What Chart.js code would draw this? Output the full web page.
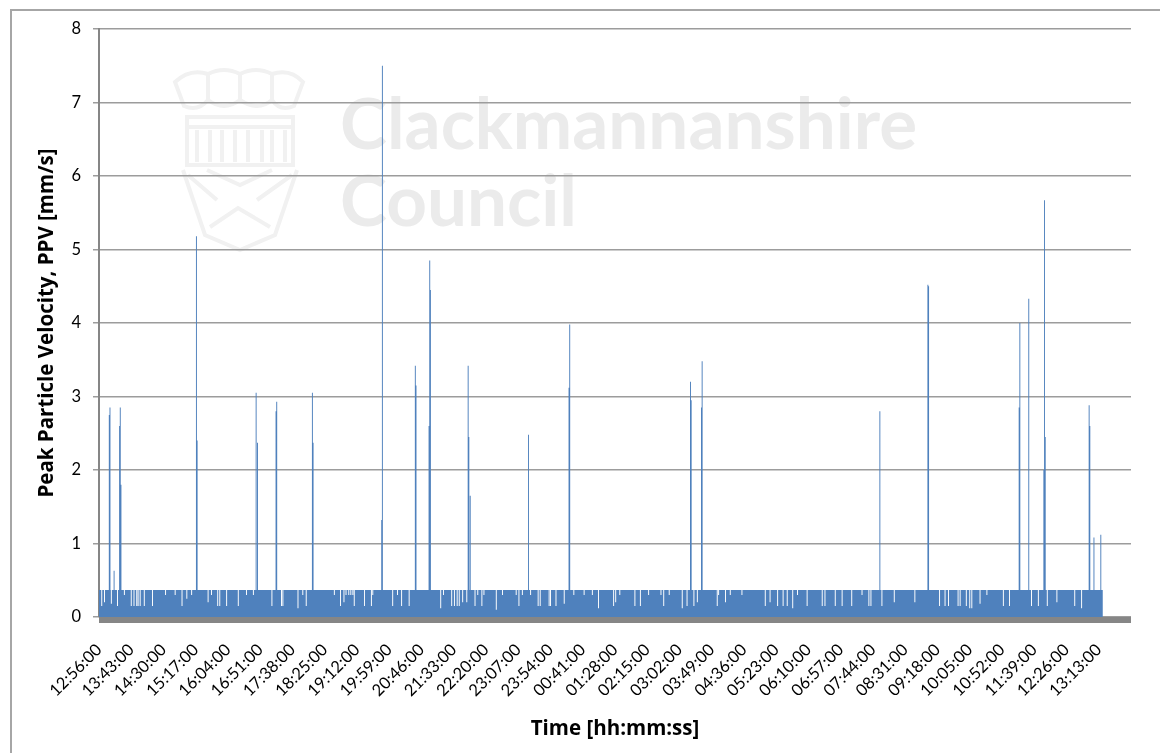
<!DOCTYPE html>
<html lang="en">

<head>
    <meta charset="UTF-8" />
    <title>Peak Particle Velocity</title>
    <script src="https://cdn.jsdelivr.net/npm/chart.js@4"></script>
    <style>
        body { margin: 0; background: #fff; }
        #wrap { position: relative; width: 1160px; height: 753px; overflow: hidden; }
        #frame { position: absolute; left: 10px; top: 9px; right: -5px; bottom: -5px; border-left: 2px solid #a6a6a6; border-top: 2px solid #a6a6a6; }
        #crest { position: absolute; left: 170px; top: 62px; }
        .mark { position: absolute; left: 340px; font: 700 71px Lato, sans-serif; color: #ebebeb; white-space: nowrap; line-height: 1; }
        canvas { position: absolute; left: 0; top: 0; }
    </style>
</head>

<body>
    <div id="wrap">
        <div id="frame"></div>
        <svg id="crest" width="140" height="195" fill="none" stroke="#f1f1f1" stroke-width="4">
            <path d="M5 20 Q20 6 38 12 Q54 4 70 12 Q86 4 102 12 Q120 6 133 20 L124 44 Q110 50 102 38 Q88 50 70 38 Q54 50 38 38 Q28 50 14 44 Z" />
            <path d="M38 12 V38 M70 12 V38 M102 12 V38" />
            <path d="M17 55 H123 V103 H17 Z M17 65 H123" />
            <path d="M27 68 V100 M40 68 V100 M52 68 V100 M65 68 V100 M78 68 V100 M92 68 V100 M102 68 V100 M115 68 V100" />
            <path d="M13 108 L35 173 L70 188 L105 173 L127 108" />
            <path d="M37 108 L70 123 L102 108 M18 113 L47 138 M122 113 L87 138 M40 165 L68 146 L100 165" />
        </svg>
        <div class="mark" style="top:86px">Clackmannanshire</div>
        <div class="mark" style="top:163px">Council</div>
        <canvas id="chart" width="1160" height="753"></canvas>
    </div>

    <script>
        const tickLabels = ['12:56:00', '13:43:00', '14:30:00', '15:17:00', '16:04:00', '16:51:00', '17:38:00', '18:25:00',
            '19:12:00', '19:59:00', '20:46:00', '21:33:00', '22:20:00', '23:07:00', '23:54:00', '00:41:00',
            '01:28:00', '02:15:00', '03:02:00', '03:49:00', '04:36:00', '05:23:00', '06:10:00', '06:57:00',
            '07:44:00', '08:31:00', '09:18:00', '10:05:00', '10:52:00', '11:39:00', '12:26:00', '13:13:00'];

        // minutes since 12:56
        const usualLevel = 0.367;
        const lastMinute = 1463;

        const spikeMinutes = [15, 16, 22, 30, 31, 32, 142, 143, 229, 231,
            258, 259, 311, 312, 412, 413, 461, 462, 481, 482,
            483, 538, 539, 541, 626, 685, 686, 862, 863, 878,
            879, 1138, 1208, 1209, 1341, 1342, 1355, 1377, 1378, 1379,
            1443, 1444, 1450, 1460];
        const spikeValues = [2.75, 2.85, 0.63, 2.6, 2.85, 1.8, 5.18, 2.4, 3.05, 2.37,
            2.8, 2.93, 3.05, 2.37, 1.32, 7.5, 3.42, 3.15, 2.6, 4.85,
            4.45, 3.42, 2.45, 1.65, 2.48, 3.12, 3.98, 3.2, 2.95, 2.85,
            3.48, 2.8, 4.52, 4.5, 2.85, 4.0, 4.33, 2.0, 5.67, 2.45,
            2.88, 2.6, 1.08, 1.12];

        const dipMinutes = [4, 8, 18, 27, 37, 47, 51, 55, 57, 60,
            66, 78, 97, 111, 121, 128, 135, 159, 164, 173,
            176, 186, 203, 215, 225, 252, 266, 268, 290, 297,
            302, 343, 352, 357, 360, 364, 367, 370, 372, 387,
            397, 399, 428, 435, 441, 452, 498, 502, 514, 518,
            522, 525, 530, 536, 548, 552, 558, 561, 579, 588,
            608, 612, 617, 629, 640, 643, 656, 658, 666, 678,
            692, 707, 719, 728, 750, 753, 759, 781, 789, 801,
            819, 823, 831, 850, 857, 867, 872, 901, 903, 913,
            920, 937, 971, 978, 989, 997, 1003, 1011, 1018, 1032,
            1054, 1058, 1073, 1083, 1097, 1112, 1122, 1125, 1141, 1159,
            1189, 1225, 1233, 1238, 1252, 1255, 1264, 1269, 1272, 1284,
            1294, 1318, 1327, 1359, 1369, 1382, 1396, 1422, 1432];
        const dipValues = [.15, .2, .18, .15, .3, .15, .15, .15, .15, .15,
            .15, .15, .3, .3, .15, .25, .3, .2, .3, .15,
            .15, .15, .15, .3, .3, .15, .15, .15, .12, .3,
            .15, .3, .15, .2, .3, .3, .3, .3, .15, .15,
            .15, .3, .15, .3, .15, .15, .12, .3, .15, .15,
            .15, .15, .2, .2, .15, .3, .15, .3, .1, .3,
            .3, .15, .3, .3, .15, .15, .15, .15, .15, .18,
            .3, .3, .3, .12, .15, .2, .3, .15, .15, .3,
            .3, .15, .3, .12, .15, .15, .2, .15, .3, .2,
            .3, .3, .15, .2, .15, .15, .15, .12, .3, .15,
            .15, .15, .15, .15, .15, .3, .15, .15, .15, .2,
            .2, .15, .15, .15, .15, .15, .15, .12, .12, .18,
            .3, .15, .15, .15, .15, .15, .2, .15, .12];

        const gridColor = '#9c9c9c';
        const axisColor = '#868686';
        const halfWidth = 0.7;

        // each reading is one sample wide, the rest of the run sits at the usual level
        const readings = new Map();
        dipMinutes.forEach((m, i) => readings.set(m, dipValues[i]));
        spikeMinutes.forEach((m, i) => readings.set(m, spikeValues[i]));
        const points = [{ x: 0, y: usualLevel }];
        [...readings.keys()].sort((a, b) => a - b).forEach(m => {
            const v = readings.get(m);
            points.push({ x: m - halfWidth, y: usualLevel }, { x: m - halfWidth, y: v }, { x: m + halfWidth, y: v }, { x: m + halfWidth, y: usualLevel });
        });
        points.push({ x: lastMinute, y: usualLevel });

        // the minute tick marks in the original merge into one thick band under the plot
        const tickBand = {
            id: 'tickBand',
            afterDraw(chart) {
                const { ctx, chartArea: a } = chart;
                ctx.save();
                ctx.fillStyle = axisColor;
                ctx.fillRect(a.left, a.bottom, a.right - a.left, 6);
                ctx.restore();
            }
        };

        new Chart(document.getElementById('chart'), {
            type: 'line',
            data: {
                datasets: [{
                    data: points,
                    backgroundColor: '#4F81BD',
                    borderColor: 'rgba(0,0,0,0)',
                    borderWidth: 0,
                    borderDash: [1, 1], // keeps Chart.js off its fast path, which merges thin columns
                    pointRadius: 0,
                    fill: 'origin',
                    tension: 0
                }]
            },
            plugins: [tickBand],
            options: {
                responsive: false,
                animation: false,
                layout: { padding: { top: 29, right: 24, left: 0, bottom: 0 } },
                plugins: { legend: { display: false }, tooltip: { enabled: false } },
                scales: {
                    x: {
                        type: 'linear',
                        min: 0,
                        max: 1504,
                        afterFit: s => { s.height = 136; },
                        grid: { display: false },
                        border: { display: false },
                        ticks: {
                            stepSize: 47,
                            autoSkip: false,
                            minRotation: 45,
                            maxRotation: 45,
                            padding: 15,
                            color: '#000',
                            font: { family: 'Lato', size: 16.5 },
                            callback: v => tickLabels[v / 47] ?? ''
                        },
                        title: {
                            display: true,
                            text: 'Time [hh:mm:ss]',
                            color: '#000',
                            font: { family: 'Open Sans', size: 20.5, weight: 'bold' },
                            padding: { top: 0, bottom: 12 }
                        }
                    },
                    y: {
                        min: 0,
                        max: 8,
                        afterFit: s => { s.width = 99; },
                        border: { display: true, color: axisColor, width: 2 },
                        grid: { color: gridColor, lineWidth: 1.5, tickLength: 6 },
                        ticks: {
                            stepSize: 1,
                            padding: 12,
                            color: '#000',
                            font: { family: 'Lato', size: 16.5 }
                        },
                        title: {
                            display: true,
                            text: 'Peak Particle Velocity, PPV [mm/s]',
                            color: '#000',
                            font: { family: 'Open Sans', size: 20.5, weight: 'bold' },
                            padding: { top: 35, bottom: 0 }
                        }
                    }
                }
            }
        });
    </script>
</body>

</html>
